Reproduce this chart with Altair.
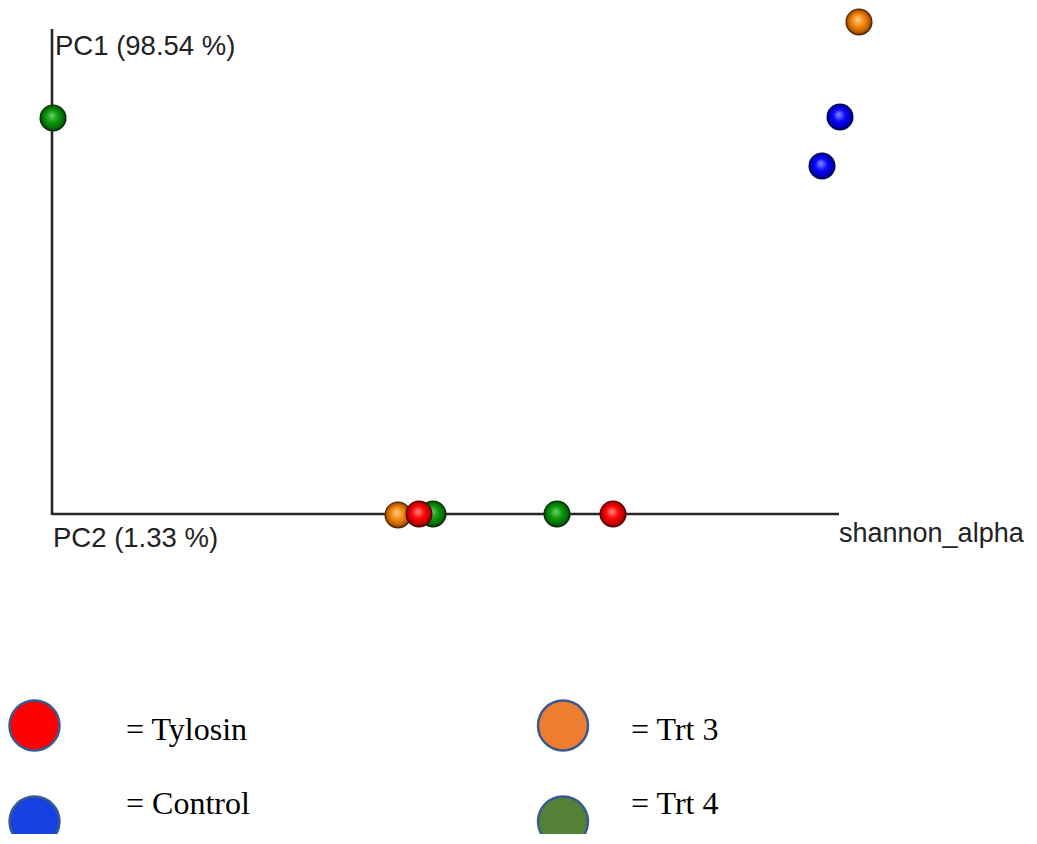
import altair as alt
import pandas as pd

W, H = 1021, 826

# --- sample points (projected PCoA positions) ---
groups = ["Trt 4", "Trt 3", "Control", "Control", "Trt 3", "Trt 4", "Trt 4", "Tylosin", "Tylosin"]
pc2 = [45, 851, 832, 814, 390, 425, 549, 411, 605]
pc1 = [110, 14, 109, 158, 507, 506, 506, 506, 506]

# --- axes ---
axis_x = [44, 44]
axis_x2 = [44, 831]
axis_y = [21, 506]
axis_y2 = [507, 506]

# --- axis labels ---
ax_labels = ["PC1 (98.54 %)", "PC2 (1.33 %)", "shannon_alpha"]
ax_lab_x = [47, 45, 831]
ax_lab_y = [47, 539, 534]
ax_lab_size = [27.5, 27.5, 27]

# --- legend ---
leg_groups = ["Tylosin", "Control", "Trt 3", "Trt 4"]
leg_colors = ["#ff0000", "#1741e0", "#ed7d31", "#538135"]
leg_x = [26.5, 26.5, 555, 555]
leg_y = [717.5, 813.5, 717.5, 813.5]
leg_text = ["= Tylosin", "= Control", "= Trt 3", "= Trt 4"]
leg_text_x = [118, 118, 623, 623]
leg_text_y = [732, 806, 732, 806]

sphere_shades = {
    "Trt 3": ["#ffd090", "#f58a10", "#b85a00", "#2a1200"],
    "Trt 4": ["#70d070", "#0c9a0c", "#066806", "#001800"],
    "Control": ["#9090ff", "#0808ff", "#0000b8", "#000028"],
    "Tylosin": ["#ff9090", "#ff0808", "#c00000", "#280000"],
}

xs = alt.Scale(domain=[0, W], nice=False, zero=False)
ys = alt.Scale(domain=[0, H], nice=False, zero=False, reverse=True)

pts = pd.DataFrame({"group": groups, "x": pc2, "y": pc1})
axes_df = pd.DataFrame({"x": axis_x, "x2": axis_x2, "y": axis_y, "y2": axis_y2})
lab_df = pd.DataFrame({"t": ax_labels, "x": ax_lab_x, "y": ax_lab_y, "s": ax_lab_size})
leg_df = pd.DataFrame({"g": leg_groups, "x": leg_x, "y": leg_y})
legt_df = pd.DataFrame({"t": leg_text, "x": leg_text_x, "y": leg_text_y})

rules = alt.Chart(axes_df).mark_rule(color="#262626", strokeWidth=2.6).encode(
    x=alt.X("x:Q", scale=xs, axis=None),
    x2="x2:Q",
    y=alt.Y("y:Q", scale=ys, axis=None),
    y2="y2:Q",
)

labels = alt.Chart(lab_df).mark_text(
    align="left", baseline="alphabetic", font="Liberation Sans", color="#222222"
).encode(
    x=alt.X("x:Q", scale=xs, axis=None),
    y=alt.Y("y:Q", scale=ys, axis=None),
    text="t:N",
    size=alt.Size("s:Q", scale=None, legend=None),
)


def sphere(g):
    s = sphere_shades[g]
    grad = {
        "gradient": "radial",
        "x1": 0.45, "y1": 0.4, "r1": 0,
        "x2": 0.5, "y2": 0.5, "r2": 0.5,
        "stops": [
            {"offset": 0, "color": s[0]},
            {"offset": 0.45, "color": s[1]},
            {"offset": 0.82, "color": s[2]},
            {"offset": 1, "color": s[3]},
        ],
    }
    return alt.Chart(pts).transform_filter(alt.datum.group == g).mark_point(
        shape="circle", filled=True, size=729, fill=grad, opacity=1, strokeWidth=0
    ).encode(x=alt.X("x:Q", scale=xs, axis=None), y=alt.Y("y:Q", scale=ys, axis=None))


spheres = [sphere(g) for g in ["Trt 3", "Trt 4", "Control", "Tylosin"]]

legend_pts = alt.Chart(leg_df).mark_point(
    shape="circle", filled=True, size=2500, opacity=1, stroke="#3a5a8e", strokeWidth=2.5, clip=True
).encode(
    x=alt.X("x:Q", scale=xs, axis=None),
    y=alt.Y("y:Q", scale=ys, axis=None),
    fill=alt.Fill("g:N", scale=alt.Scale(domain=leg_groups, range=leg_colors), legend=None),
)

legend_txt = alt.Chart(legt_df).mark_text(
    align="left", baseline="alphabetic", font="Liberation Serif", fontSize=32, color="#000000"
).encode(x=alt.X("x:Q", scale=xs, axis=None), y=alt.Y("y:Q", scale=ys, axis=None), text="t:N")

chart = alt.layer(rules, labels, *spheres, legend_pts, legend_txt).properties(
    width=W, height=H, padding=0, autosize=alt.AutoSizeParams(type="none")
).configure_view(stroke=None)

chart.save("out.html", embed_options={"renderer": "svg", "actions": False})
